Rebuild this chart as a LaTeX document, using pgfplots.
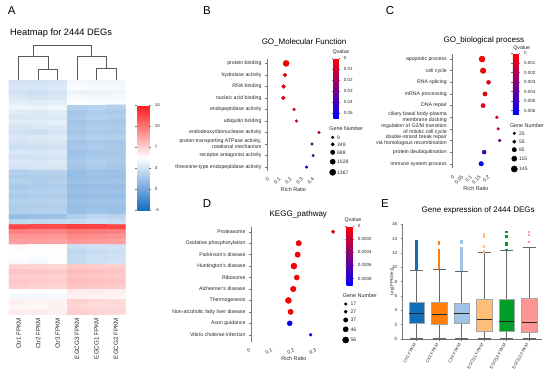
\documentclass[border=0pt]{standalone}
\usepackage{pgfplots}
\pgfplotsset{compat=1.18}
\usepgfplotslibrary{statistics}
\usepackage{fontspec}
\setmainfont{Liberation Sans}
\newcommand{\fs}[1]{\fontsize{#1}{#1}\selectfont}
\newcommand{\fsl}[1]{\fontsize{#1}{6}\selectfont}
\definecolor{txt}{RGB}{40,40,40}
\definecolor{axc}{RGB}{120,120,120}
\definecolor{cA}{RGB}{17,110,185}
\definecolor{cB}{RGB}{255,127,14}
\definecolor{cC}{RGB}{160,196,232}
\definecolor{cD}{RGB}{255,190,120}
\definecolor{cE}{RGB}{0,160,40}
\definecolor{cF}{RGB}{255,150,150}
\pgfplotsset{
  colormap={heat}{rgb255=(20,108,196) rgb255=(255,255,255) rgb255=(252,24,24)},
  colormap={qv}{rgb255=(255,0,0) rgb255=(0,0,255)},
  /pgf/number format/assume math mode=true,
  richax/.style={anchor=south west, scale only axis, clip=false, y dir=reverse,
    axis x line*=bottom, axis y line*=left,
    x axis line style={draw=none}, y axis line style={draw=axc, line width=0.4pt},
    xtick style={draw=none}, ytick style={draw=axc, line width=0.4pt},
    tick align=outside, major tick length=2pt, ytick={0,...,9},
    yticklabel style={font=\fsl{5.2}, text=txt, align=right},
    xticklabel style={font=\fs{5}, text=txt},
    xlabel={Rich Ratio}, xlabel style={font=\fs{5.4}, text=txt, yshift=6pt},
    colormap name=qv, colorbar,
  },
  cbst/.style={at={(parent axis.north east)}, anchor=north west, scale only axis,
    y dir=reverse, axis line style={draw=none}, ytick style={draw=axc, line width=0.3pt},
    major tick length=1.5pt, tick align=outside, scaled y ticks=false,
    yticklabel style={font=\fs{4.5}, text=txt}},
}
\begin{document}
\begin{tikzpicture}
\useasboundingbox (0,0) rectangle (550pt,376pt);

% ---------------- Panel A: dendrogram ----------------
\begin{axis}[at={(9pt,296pt)}, anchor=south west, scale only axis, width=116.7pt, height=35pt,
  xmin=-0.5, xmax=5.5, ymin=0, ymax=35, hide axis, clip=false]
\addplot[draw=black!65, line width=0.7pt] coordinates {(1,0) (1,11) (2,11) (2,0)};
\addplot[draw=black!65, line width=0.7pt] coordinates {(0,0) (0,23.3) (1.5,23.3) (1.5,11)};
\addplot[draw=black!65, line width=0.7pt] coordinates {(4,0) (4,11.7) (5,11.7) (5,0)};
\addplot[draw=black!65, line width=0.7pt] coordinates {(3,0) (3,23.3) (4.5,23.3) (4.5,11.7)};
\addplot[draw=black!65, line width=0.7pt] coordinates {(0.75,23.3) (0.75,35) (3.75,35) (3.75,23.3)};
\end{axis}

% ---------------- Panel A: heatmap ----------------
\begin{axis}[at={(9pt,61.7pt)}, anchor=south west, scale only axis, width=116.7pt, height=234.3pt,
  xmin=-0.5, xmax=5.5, ymin=-0.5, ymax=46.5, y dir=reverse, enlargelimits=false,
  colormap name=heat, point meta min=-4, point meta max=14,
  axis line style={draw=none}, ytick=\empty, xtick={0,...,5},
  xticklabels={Ctr1 FPKM, Ctr2 FPKM, Ctr3 FPKM, EGCG3 FPKM, EGCG1 FPKM, EGCG2 FPKM},
  xticklabel style={rotate=90, anchor=east, font=\fs{6.3}, text=txt},
  xtick style={draw=none}, major tick length=0pt,
  colorbar, colorbar style={at={(parent axis.north east)}, anchor=north west,
    xshift=3.1pt, yshift=-25pt, scale only axis, width=12pt, height=105pt,
    ytick={-4,-0.4,3.2,6.8,10.4,14}, yticklabels={-4,0,3,7,10,14},
    yticklabel style={font=\fs{4.5}, text=txt}, axis line style={draw=none},
    ytick style={draw=axc, line width=0.3pt}, major tick length=2pt, tick align=outside}]
\addplot[matrix plot*, mesh/cols=6, point meta=explicit] coordinates {
(0,0)[3.3] (1,0)[3.3] (2,0)[3.4] (3,0)[4.6] (4,0)[4.4] (5,0)[4.5]
(0,1)[3.6] (1,1)[3.5] (2,1)[3.7] (3,1)[4.8] (4,1)[4.7] (5,1)[4.7]
(0,2)[3.2] (1,2)[3.1] (2,2)[3.3] (3,2)[4.3] (4,2)[4.2] (5,2)[4.4]
(0,3)[3.5] (1,3)[3.4] (2,3)[3.6] (3,3)[4.7] (4,3)[4.5] (5,3)[4.6]
(0,4)[3.9] (1,4)[3.8] (2,4)[4.0] (3,4)[4.9] (4,4)[4.8] (5,4)[4.8]
(0,5)[4.4] (1,5)[4.3] (2,5)[4.5] (3,5)[2.0] (4,5)[2.3] (5,5)[2.2]
(0,6)[3.8] (1,6)[3.7] (2,6)[3.9] (3,6)[1.6] (4,6)[1.9] (5,6)[1.8]
(0,7)[3.5] (1,7)[3.6] (2,7)[3.7] (3,7)[1.8] (4,7)[2.1] (5,7)[2.0]
(0,8)[3.9] (1,8)[3.8] (2,8)[4.0] (3,8)[1.4] (4,8)[1.7] (5,8)[1.6]
(0,9)[3.4] (1,9)[3.5] (2,9)[3.6] (3,9)[1.7] (4,9)[2.0] (5,9)[1.9]
(0,10)[3.2] (1,10)[3.1] (2,10)[3.4] (3,10)[1.5] (4,10)[1.8] (5,10)[1.7]
(0,11)[3.6] (1,11)[3.7] (2,11)[3.8] (3,11)[1.9] (4,11)[2.2] (5,11)[2.1]
(0,12)[3.3] (1,12)[3.4] (2,12)[3.5] (3,12)[1.4] (4,12)[1.7] (5,12)[1.6]
(0,13)[3.0] (1,13)[3.1] (2,13)[3.2] (3,13)[1.6] (4,13)[1.8] (5,13)[1.7]
(0,14)[3.5] (1,14)[3.6] (2,14)[3.7] (3,14)[1.3] (4,14)[1.6] (5,14)[1.5]
(0,15)[3.2] (1,15)[3.3] (2,15)[3.4] (3,15)[1.5] (4,15)[1.8] (5,15)[1.7]
(0,16)[3.6] (1,16)[3.5] (2,16)[3.7] (3,16)[1.7] (4,16)[2.0] (5,16)[1.8]
(0,17)[3.3] (1,17)[3.4] (2,17)[3.5] (3,17)[1.4] (4,17)[1.7] (5,17)[1.6]
(0,18)[2.0] (1,18)[2.1] (2,18)[2.2] (3,18)[1.0] (4,18)[1.3] (5,18)[1.2]
(0,19)[1.8] (1,19)[1.9] (2,19)[2.0] (3,19)[1.0] (4,19)[1.2] (5,19)[1.1]
(0,20)[2.1] (1,20)[2.0] (2,20)[2.2] (3,20)[1.2] (4,20)[1.4] (5,20)[1.3]
(0,21)[1.7] (1,21)[1.8] (2,21)[1.9] (3,21)[0.9] (4,21)[1.1] (5,21)[1.0]
(0,22)[2.0] (1,22)[2.1] (2,22)[2.2] (3,22)[1.1] (4,22)[1.3] (5,22)[1.2]
(0,23)[1.8] (1,23)[1.9] (2,23)[2.0] (3,23)[0.9] (4,23)[1.1] (5,23)[1.0]
(0,24)[2.1] (1,24)[2.2] (2,24)[2.3] (3,24)[1.2] (4,24)[1.4] (5,24)[1.3]
(0,25)[1.9] (1,25)[2.0] (2,25)[2.1] (3,25)[1.0] (4,25)[1.2] (5,25)[1.1]
(0,26)[2.0] (1,26)[2.1] (2,26)[2.2] (3,26)[1.1] (4,26)[1.3] (5,26)[1.2]
(0,27)[1.0] (1,27)[1.1] (2,27)[1.3] (3,27)[2.0] (4,27)[2.5] (5,27)[2.4]
(0,28)[2.6] (1,28)[2.7] (2,28)[2.8] (3,28)[2.8] (4,28)[3.0] (5,28)[2.9]
(0,29)[12.3] (1,29)[12.1] (2,29)[12.0] (3,29)[12.5] (4,29)[12.3] (5,29)[12.2]
(0,30)[10.0] (1,30)[9.9] (2,30)[9.8] (3,30)[10.3] (4,30)[10.1] (5,30)[10.0]
(0,31)[9.2] (1,31)[9.1] (2,31)[9.0] (3,31)[9.6] (4,31)[9.4] (5,31)[9.3]
(0,32)[8.8] (1,32)[8.7] (2,32)[8.6] (3,32)[9.1] (4,32)[8.9] (5,32)[8.8]
(0,33)[5.2] (1,33)[5.1] (2,33)[5.2] (3,33)[3.0] (4,33)[3.2] (5,33)[3.3]
(0,34)[4.9] (1,34)[4.8] (2,34)[5.0] (3,34)[2.6] (4,34)[2.9] (5,34)[3.0]
(0,35)[5.0] (1,35)[4.9] (2,35)[5.1] (3,35)[2.7] (4,35)[3.0] (5,35)[3.1]
(0,36)[4.7] (1,36)[4.6] (2,36)[4.8] (3,36)[2.8] (4,36)[3.1] (5,36)[3.2]
(0,37)[6.8] (1,37)[6.7] (2,37)[6.6] (3,37)[7.2] (4,37)[7.0] (5,37)[6.9]
(0,38)[7.3] (1,38)[7.2] (2,38)[7.1] (3,38)[7.6] (4,38)[7.4] (5,38)[7.3]
(0,39)[7.0] (1,39)[6.9] (2,39)[6.8] (3,39)[7.4] (4,39)[7.2] (5,39)[7.1]
(0,40)[7.2] (1,40)[7.1] (2,40)[7.0] (3,40)[7.6] (4,40)[7.4] (5,40)[7.3]
(0,41)[6.9] (1,41)[6.8] (2,41)[6.7] (3,41)[7.3] (4,41)[7.1] (5,41)[7.0]
(0,42)[5.0] (1,42)[4.9] (2,42)[5.0] (3,42)[5.8] (4,42)[5.7] (5,42)[5.6]
(0,43)[4.6] (1,43)[4.5] (2,43)[4.7] (3,43)[5.6] (4,43)[5.5] (5,43)[5.4]
(0,44)[5.6] (1,44)[5.5] (2,44)[5.6] (3,44)[6.8] (4,44)[6.6] (5,44)[6.5]
(0,45)[5.4] (1,45)[5.3] (2,45)[5.5] (3,45)[6.6] (4,45)[6.5] (5,45)[6.4]
(0,46)[5.8] (1,46)[5.7] (2,46)[5.6] (3,46)[6.9] (4,46)[6.7] (5,46)[6.6]
};
\end{axis}

% ---------------- Panel B ----------------
\begin{axis}[richax, at={(267pt,205.5pt)}, width=52.9pt, height=111.7pt,
  xmin=0, xmax=0.47, ymin=-0.4, ymax=9.3,
  xtick={0,0.1,0.2,0.3,0.4}, xticklabels={0,0.1,0.2,0.3,0.4},
  xticklabel style={rotate=45, anchor=north east},
  yticklabels={protein binding, hydrolase activity, RNA binding, nucleic acid binding,
    endopeptidase activity, ubiquitin binding, endodeoxyribonuclease activity,
    {proton-transporting ATPase activity,\\rotational mechanism},
    receptor antagonist activity, threonine-type endopeptidase activity},
  point meta min=0, point meta max=0.055,
  colorbar style={cbst, xshift=4.9pt, yshift=0.4pt, width=5.5pt, height=60pt,
    ytick={0,0.01,0.02,0.03,0.04,0.05}, yticklabels={0,0.01,0.02,0.03,0.04,0.05}}]
\addplot[scatter, only marks, mark=*, point meta=explicit,
  visualization depends on={1.3+1.8*(\thisrow{n}-9)/1358 \as \msize},
  scatter/@pre marker code/.append style={/tikz/mark size=\msize}]
  table[x=x, y=y, meta=q] {
x y q n
0.170 0 0.000 1300
0.160 1 0.001 420
0.148 2 0.001 500
0.145 3 0.002 480
0.240 4 0.004 120
0.262 5 0.005 100
0.462 6 0.012 30
0.400 7 0.030 20
0.410 8 0.038 15
0.352 9 0.052 20
};
\end{axis}

% ---------------- Panel C ----------------
\begin{axis}[richax, at={(452.3pt,207.6pt)}, width=47.25pt, height=114pt,
  xmin=0, xmax=0.27, ymin=-0.4, ymax=9.4,
  xtick={0,0.05,0.1,0.15,0.2}, xticklabels={0,0.05,0.1,0.15,0.2},
  xticklabel style={rotate=45, anchor=north east},
  yticklabels={apoptotic process, cell cycle, RNA splicing, mRNA processing, DNA repair,
    {ciliary basal body-plasma\\membrane docking},
    {regulation of G2/M transition\\of mitotic cell cycle},
    {double-strand break repair\\via homologous recombination},
    protein deubiquitination, immune system process},
  point meta min=0, point meta max=0.0064,
  colorbar style={cbst, xshift=4.9pt, yshift=1pt, width=6pt, height=61pt,
    ytick={0,0.001,0.002,0.003,0.004,0.005,0.006},
    yticklabels={0,0.001,0.002,0.003,0.004,0.005,0.006}}]
\addplot[scatter, only marks, mark=*, point meta=explicit,
  visualization depends on={1.3+1.7*(\thisrow{n}-25)/120 \as \msize},
  scatter/@pre marker code/.append style={/tikz/mark size=\msize}]
  table[x=x, y=y, meta=q] {
x y q n
0.170 0 0.0000 145
0.176 1 0.0000 130
0.207 2 0.0003 75
0.187 3 0.0004 85
0.176 4 0.0004 85
0.255 5 0.0008 35
0.262 6 0.0012 28
0.270 7 0.0040 35
0.182 8 0.0046 75
0.165 9 0.0062 95
};
\end{axis}

% ---------------- Panel D ----------------
\begin{axis}[richax, at={(251pt,34.4pt)}, width=85.8pt, height=115pt,
  xmin=0, xmax=0.39, ymin=-0.45, ymax=9.6,
  xtick={0,0.1,0.2,0.3}, xticklabels={0,0.1,0.2,0.3},
  xticklabel style={rotate=25, anchor=north east},
  yticklabels={Proteasome, Oxidative phosphorylation, Parkinson's disease, Huntington's disease,
    Ribosome, Alzheimer's disease, Thermogenesis, Non-alcoholic fatty liver disease,
    Axon guidance, Vibrio cholerae infection},
  point meta min=0, point meta max=0.00091,
  colorbar style={cbst, xshift=1.4pt, yshift=0.6pt, width=6pt, height=59.7pt,
    ytick={0,0.0002,0.0004,0.0006,0.0008},
    yticklabels={0,0.0002,0.0004,0.0006,0.0008}}]
\addplot[scatter, only marks, mark=*, point meta=explicit,
  visualization depends on={1.3+1.7*(\thisrow{n}-17)/39 \as \msize},
  scatter/@pre marker code/.append style={/tikz/mark size=\msize}]
  table[x=x, y=y, meta=q] {
x y q n
0.373 0 0.00002 26
0.217 1 0.00001 49
0.212 2 0.00001 49
0.195 3 0.00000 56
0.208 4 0.00001 45
0.192 5 0.00000 51
0.170 6 0.00000 56
0.180 7 0.00001 48
0.176 8 0.00088 45
0.271 9 0.00090 22
};
\end{axis}

% ---------------- Panel E ----------------
\begin{axis}[at={(402.7pt,37pt)}, anchor=south west, scale only axis, width=139pt, height=114.7pt,
  xmin=0.378, xmax=6.556, ymin=0, ymax=16, clip=false,
  axis lines*=left, axis line style={draw=axc, line width=0.5pt},
  tick style={draw=axc, line width=0.4pt}, tick align=outside, major tick length=2pt,
  ytick={0,2,...,16}, xtick={1,...,6},
  xticklabels={Ctr1 FPKM, Ctr2 FPKM, Ctr3 FPKM, EGCG1 FPKM, EGCG2 FPKM, EGCG3 FPKM},
  xticklabel style={rotate=60, anchor=east, font=\fs{4.3}, text=txt},
  yticklabel style={font=\fs{4.5}, text=txt},
  ylabel={Log(FPKM+1)}, ylabel style={font=\fs{4.5}, text=txt, yshift=-9pt},
  boxplot/draw direction=y,
  boxplot/box extend=0.68, boxplot/whisker extend=0.58,
  boxplot/every whisker/.style={draw=black!60, line width=1.1pt},
  boxplot/every median/.style={draw=black!85, line width=1pt}]
\addplot[boxplot prepared={draw position=1, median=3.5, upper quartile=5.1, lower quartile=2.15, upper whisker=9.5, lower whisker=0},
  boxplot/every box/.style={draw=black!35, fill=cA, line width=0.5pt},
  mark=square*, mark size=0.75pt, mark options={draw=cA, fill=cA, line width=0pt}]
  coordinates {(0,9.8) (0,9.95) (0,10.1) (0,10.25) (0,10.4) (0,10.55) (0,10.7) (0,10.85) (0,11.0) (0,11.15) (0,11.3) (0,11.45) (0,11.6) (0,11.8) (0,12.0) (0,12.3) (0,12.6) (0,13.0) (0,13.3) (0,13.6)};
\addplot[boxplot prepared={draw position=2, median=3.4, upper quartile=5.15, lower quartile=2.05, upper whisker=9.75, lower whisker=0},
  boxplot/every box/.style={draw=black!35, fill=cB, line width=0.5pt},
  mark=square*, mark size=0.75pt, mark options={draw=cB, fill=cB, line width=0pt}]
  coordinates {(0,9.9) (0,10.05) (0,10.2) (0,10.35) (0,10.5) (0,10.65) (0,10.8) (0,10.95) (0,11.1) (0,11.3) (0,11.5) (0,11.7) (0,11.9) (0,12.1) (0,12.4) (0,13.3) (0,13.5)};
\addplot[boxplot prepared={draw position=3, median=3.5, upper quartile=5.05, lower quartile=2.15, upper whisker=9.4, lower whisker=0},
  boxplot/every box/.style={draw=black!35, fill=cC, line width=0.5pt},
  mark=square*, mark size=0.75pt, mark options={draw=cC, fill=cC, line width=0pt}]
  coordinates {(0,9.6) (0,9.8) (0,10.0) (0,10.2) (0,10.4) (0,10.6) (0,10.8) (0,11.0) (0,11.2) (0,11.4) (0,11.7) (0,12.0) (0,12.3) (0,12.6) (0,13.4) (0,13.6)};
\addplot[boxplot prepared={draw position=4, median=2.7, upper quartile=5.5, lower quartile=1.15, upper whisker=12.07, lower whisker=0},
  boxplot/every box/.style={draw=black!35, fill=cD, line width=0.5pt},
  mark=square*, mark size=0.75pt, mark options={draw=cD, fill=cD, line width=0pt}]
  coordinates {(0,12.2) (0,12.9) (0,14.3) (0,14.6)};
\addplot[boxplot prepared={draw position=5, median=2.45, upper quartile=5.55, lower quartile=1.02, upper whisker=12.35, lower whisker=0},
  boxplot/every box/.style={draw=black!35, fill=cE, line width=0.5pt},
  mark=square*, mark size=0.75pt, mark options={draw=cE, fill=cE, line width=0pt}]
  coordinates {(0,12.4) (0,13.1) (0,13.3) (0,14.3) (0,14.9)};
\addplot[boxplot prepared={draw position=6, median=2.3, upper quartile=5.7, lower quartile=0.93, upper whisker=12.8, lower whisker=0},
  boxplot/every box/.style={draw=black!35, fill=cF, line width=0.5pt},
  mark=square*, mark size=0.75pt, mark options={draw=cF, fill=cF, line width=0pt}]
  coordinates {(0,13.5) (0,14.5) (0,14.9)};
\end{axis}

% ---------------- Overlay: titles and size legends (pixel coordinates) ----------------
\begin{axis}[at={(0pt,0pt)}, anchor=south west, scale only axis, width=550pt, height=376pt,
  xmin=0, xmax=550, ymin=0, ymax=376, y dir=reverse, hide axis, clip=false]
\node[font=\fs{11.5}] at (11.7,11) {A};
\node[font=\fs{11.5}] at (207,11) {B};
\node[font=\fs{11.5}] at (390,11) {C};
\node[font=\fs{11.5}] at (207,204) {D};
\node[font=\fs{11.5}] at (385,204) {E};
\node[font=\fs{9.3}, anchor=west, inner sep=0pt] at (10,33.5) {Heatmap for 2444 DEGs};
\node[font=\fs{8}] at (304,42.7) {GO\_Molecular Function};
\node[font=\fs{8}] at (483.8,40) {GO\_biological process};
\node[font=\fs{8}] at (298.3,214) {KEGG\_pathway};
\node[font=\fs{8}] at (478.2,210) {Gene expression of 2444 DEGs};
\node[font=\fs{5.3}, text=txt] at (341,52) {Qvalue};
\node[font=\fs{5.3}, text=txt] at (521.7,47.7) {Qvalue};
\node[font=\fs{5.3}, text=txt] at (353,220) {Qvalue};
\node[font=\fs{5.4}, text=txt] at (346.3,128.3) {Gene Number};
\node[font=\fs{5.4}, text=txt] at (527,125.3) {Gene Number};
\node[font=\fs{5.4}, text=txt, anchor=west, inner sep=0pt] at (342.7,295.7) {Gene Number};
% B legend
\addplot[only marks, mark=*, mark size=1.3pt, black] coordinates {(332.7,137.3)};
\addplot[only marks, mark=*, mark size=1.7pt, black] coordinates {(332.7,144.3)};
\addplot[only marks, mark=*, mark size=2.2pt, black] coordinates {(332.7,152.3)};
\addplot[only marks, mark=*, mark size=2.6pt, black] coordinates {(332.7,161.7)};
\addplot[only marks, mark=*, mark size=3.1pt, black] coordinates {(332.7,172.3)};
\node[font=\fs{5}, text=txt, anchor=west, inner sep=0pt] at (337,137.3) {9};
\node[font=\fs{5}, text=txt, anchor=west, inner sep=0pt] at (337,144.3) {349};
\node[font=\fs{5}, text=txt, anchor=west, inner sep=0pt] at (337,152.3) {688};
\node[font=\fs{5}, text=txt, anchor=west, inner sep=0pt] at (337,161.7) {1028};
\node[font=\fs{5}, text=txt, anchor=west, inner sep=0pt] at (337,172.3) {1367};
% C legend
\addplot[only marks, mark=*, mark size=1.3pt, black] coordinates {(514.3,133.3)};
\addplot[only marks, mark=*, mark size=1.7pt, black] coordinates {(514.3,141.7)};
\addplot[only marks, mark=*, mark size=2.2pt, black] coordinates {(514.3,149.7)};
\addplot[only marks, mark=*, mark size=2.6pt, black] coordinates {(514.3,158.7)};
\addplot[only marks, mark=*, mark size=3.1pt, black] coordinates {(514.3,169)};
\node[font=\fs{5}, text=txt, anchor=west, inner sep=0pt] at (519,133.3) {25};
\node[font=\fs{5}, text=txt, anchor=west, inner sep=0pt] at (519,141.7) {55};
\node[font=\fs{5}, text=txt, anchor=west, inner sep=0pt] at (519,149.7) {85};
\node[font=\fs{5}, text=txt, anchor=west, inner sep=0pt] at (519,158.7) {115};
\node[font=\fs{5}, text=txt, anchor=west, inner sep=0pt] at (519,169) {145};
% D legend
\addplot[only marks, mark=*, mark size=1.3pt, black] coordinates {(345.7,304)};
\addplot[only marks, mark=*, mark size=1.7pt, black] coordinates {(345.7,311.7)};
\addplot[only marks, mark=*, mark size=2.2pt, black] coordinates {(345.7,320)};
\addplot[only marks, mark=*, mark size=2.6pt, black] coordinates {(345.7,329.3)};
\addplot[only marks, mark=*, mark size=3.1pt, black] coordinates {(345.7,340)};
\node[font=\fs{5}, text=txt, anchor=west, inner sep=0pt] at (350.5,304) {17};
\node[font=\fs{5}, text=txt, anchor=west, inner sep=0pt] at (350.5,311.7) {27};
\node[font=\fs{5}, text=txt, anchor=west, inner sep=0pt] at (350.5,320) {37};
\node[font=\fs{5}, text=txt, anchor=west, inner sep=0pt] at (350.5,329.3) {46};
\node[font=\fs{5}, text=txt, anchor=west, inner sep=0pt] at (350.5,340) {56};
\end{axis}
\end{tikzpicture}
\end{document}
